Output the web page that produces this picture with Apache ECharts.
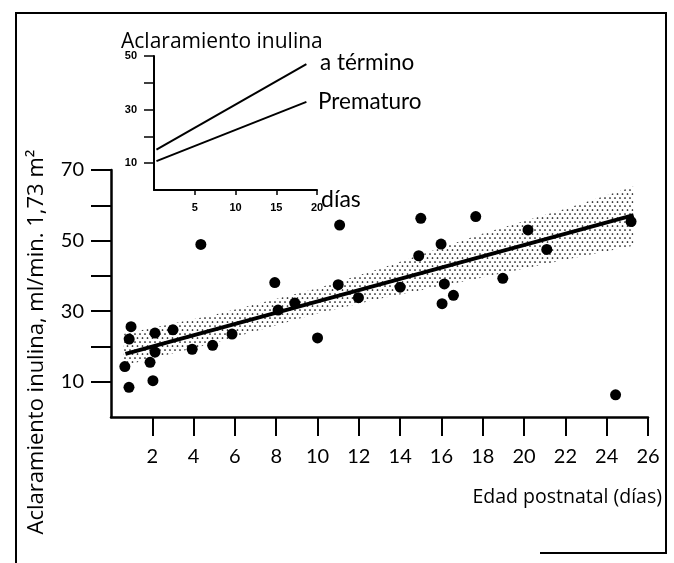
<!DOCTYPE html>
<html>
<head>
    <meta charset="utf-8">
    <title>Aclaramiento inulina</title>
    <script src="https://cdn.jsdelivr.net/npm/echarts@6/dist/echarts.min.js"></script>
</head>
<body>
<style>
    html, body, #main {
        width: 100%;
        height: 100%;
        padding: 0;
        margin: 0;
        background: #fff;
    }
</style>
<div id="main"></div>
<script type="text/javascript">
    // puntos: edad postnatal (días) / aclaramiento (ml/min 1,73 m2)
    var ageDays = [11.07, 4.35, 7.93, 11.0, 11.98, 8.09, 8.9, 10.0, 0.97, 0.88, 0.67, 0.87,
        2.13, 2.13, 1.89, 2.03, 3.0, 3.93, 4.92, 5.86, 15.0, 17.66, 15.98, 14.9,
        20.19, 21.1, 25.18, 14.0, 16.14, 16.58, 16.03, 18.97, 24.43];
    var clearance = [54.4, 48.9, 38.1, 37.5, 33.8, 30.3, 32.3, 22.4, 25.6, 22.1, 14.3, 8.4,
        23.8, 18.4, 15.5, 10.3, 24.7, 19.2, 20.3, 23.5, 56.3, 56.8, 49.0, 45.7,
        53.0, 47.5, 55.4, 36.8, 37.7, 34.5, 32.1, 39.3, 6.3];

    // recta de regresión y banda punteada
    var fitDays = [0.7, 25.3];
    var fitValues = [17.9, 57.2];
    var bandDays = [0.6, 5, 10, 13, 18, 22, 25.3];
    var bandLow = [14.5, 21, 29.3, 33.5, 39.5, 44.6, 48.5];
    var bandHigh = [23.5, 29, 36.5, 42, 52, 59, 65.3];

    // recuadro
    var insetDays = [0.3, 18.7];
    var termValues = [15.1, 47.0];
    var pretermValues = [10.8, 32.9];

    var mainXTicks = [2, 4, 6, 8, 10, 12, 14, 16, 18, 20, 22, 24, 26];
    var mainYTicks = [10, 20, 30, 40, 50, 60, 70];
    var mainYLabels = [10, 30, 50, 70];
    var insetXTicks = [5, 10, 15, 20];
    var insetYTicks = [10, 20, 30, 40, 50];
    var insetYLabels = [10, 30, 50];

    function pairs(xs, ys) {
        return xs.map(function (x, i) { return [x, ys[i]]; });
    }

    // un tramo de banda por cada par de puntos consecutivos
    var bandSegments = [];
    for (var i = 0; i < bandDays.length - 1; i++) {
        bandSegments.push([bandDays[i], bandLow[i], bandHigh[i],
            bandDays[i + 1], bandLow[i + 1], bandHigh[i + 1]]);
    }

    // trama de puntos para la banda
    var dots = document.createElement('canvas');
    dots.width = 10;
    dots.height = 8;
    var ctx = dots.getContext('2d');
    ctx.fillStyle = '#000';
    [[2.5, 2], [7.5, 2], [0, 6], [5, 6], [10, 6]].forEach(function (p) {
        ctx.beginPath();
        ctx.arc(p[0], p[1], 0.85, 0, Math.PI * 2);
        ctx.fill();
    });

    var font = 'Lato';
    var myChart = echarts.init(document.getElementById('main'));

    myChart.setOption({
        animation: false,
        backgroundColor: '#fff',
        grid: [
            {left: 111, top: 170, width: 537, height: 247},
            {left: 154, top: 56, width: 163, height: 134}
        ],
        xAxis: [
            {
                type: 'value', gridIndex: 0, min: 0, max: 26,
                axisLine: {lineStyle: {color: '#000', width: 2.5}},
                axisTick: {customValues: mainXTicks, length: 19, lineStyle: {color: '#000', width: 2}},
                axisLabel: {customValues: mainXTicks, margin: 30, color: '#000', fontFamily: font, fontSize: 20},
                splitLine: {show: false}
            },
            {
                type: 'value', gridIndex: 1, min: 0, max: 20,
                axisLine: {lineStyle: {color: '#000', width: 2}},
                axisTick: {customValues: insetXTicks, length: 5, lineStyle: {color: '#000', width: 1.5}},
                axisLabel: {customValues: insetXTicks, margin: 12, color: '#000', fontFamily: 'Liberation Sans', fontWeight: 'bold', fontSize: 11},
                splitLine: {show: false}
            }
        ],
        yAxis: [
            {
                type: 'value', gridIndex: 0, min: 0, max: 70,
                axisLine: {lineStyle: {color: '#000', width: 2.5}},
                axisTick: {customValues: mainYTicks, length: 20, lineStyle: {color: '#000', width: 2}},
                axisLabel: {customValues: mainYLabels, margin: 27, color: '#000', fontFamily: font, fontSize: 20},
                splitLine: {show: false}
            },
            {
                type: 'value', gridIndex: 1, min: 0, max: 50,
                axisLine: {lineStyle: {color: '#000', width: 2}},
                axisTick: {customValues: insetYTicks, length: 10, lineStyle: {color: '#000', width: 1.5}},
                axisLabel: {customValues: insetYLabels, margin: 17, color: '#000', fontFamily: 'Liberation Sans', fontWeight: 'bold', fontSize: 11},
                splitLine: {show: false}
            }
        ],
        series: [
            {
                type: 'custom', xAxisIndex: 0, yAxisIndex: 0,
                data: bandSegments,
                encode: {x: [0, 3], y: [1, 2, 4, 5]},
                silent: true, z: 1,
                renderItem: function (params, api) {
                    var pts = [
                        api.coord([api.value(0), api.value(1)]),
                        api.coord([api.value(3), api.value(4)]),
                        api.coord([api.value(3), api.value(5)]),
                        api.coord([api.value(0), api.value(2)])
                    ];
                    return {
                        type: 'polygon',
                        shape: {points: pts},
                        style: {fill: {image: dots, repeat: 'repeat'}, stroke: null}
                    };
                }
            },
            {
                type: 'line', xAxisIndex: 0, yAxisIndex: 0,
                data: pairs(fitDays, fitValues),
                symbol: 'none', lineStyle: {color: '#000', width: 4}, z: 3
            },
            {
                type: 'scatter', xAxisIndex: 0, yAxisIndex: 0,
                data: pairs(ageDays, clearance),
                symbolSize: 11, itemStyle: {color: '#000', opacity: 1}, z: 4
            },
            {
                type: 'line', xAxisIndex: 1, yAxisIndex: 1,
                data: pairs(insetDays, termValues),
                symbol: 'none', lineStyle: {color: '#000', width: 2}
            },
            {
                type: 'line', xAxisIndex: 1, yAxisIndex: 1,
                data: pairs(insetDays, pretermValues),
                symbol: 'none', lineStyle: {color: '#000', width: 2}
            }
        ],
        graphic: [
            {
                type: 'polyline', silent: true,
                shape: {points: [[16, 563], [16, 13], [666, 13], [666, 553], [540, 553]]},
                style: {fill: null, stroke: '#000', lineWidth: 2}
            },
            {
                type: 'text', x: 37, y: 342, rotation: Math.PI / 2,
                style: {text: 'Aclaramiento inulina, ml/min. 1,73 m²', font: '22px "Open Sans"', fill: '#000', align: 'center', verticalAlign: 'middle'}
            },
            {
                type: 'text', x: 662, y: 497,
                style: {text: 'Edad postnatal (días)', font: '19.5px "Open Sans"', fill: '#000', align: 'right', verticalAlign: 'middle'}
            },
            {
                type: 'text', x: 121, y: 42,
                style: {text: 'Aclaramiento inulina', font: '21px "Open Sans"', fill: '#000', align: 'left', verticalAlign: 'middle'}
            },
            {
                type: 'text', x: 320, y: 63,
                style: {text: 'a término', font: '22.5px Lato', fill: '#000', align: 'left', verticalAlign: 'middle'}
            },
            {
                type: 'text', x: 318, y: 102,
                style: {text: 'Prematuro', font: '22.5px Lato', fill: '#000', align: 'left', verticalAlign: 'middle'}
            },
            {
                type: 'text', x: 321, y: 200,
                style: {text: 'días', font: '23px Lato', fill: '#000', align: 'left', verticalAlign: 'middle'}
            }
        ]
    });
</script>
</body>
</html>
